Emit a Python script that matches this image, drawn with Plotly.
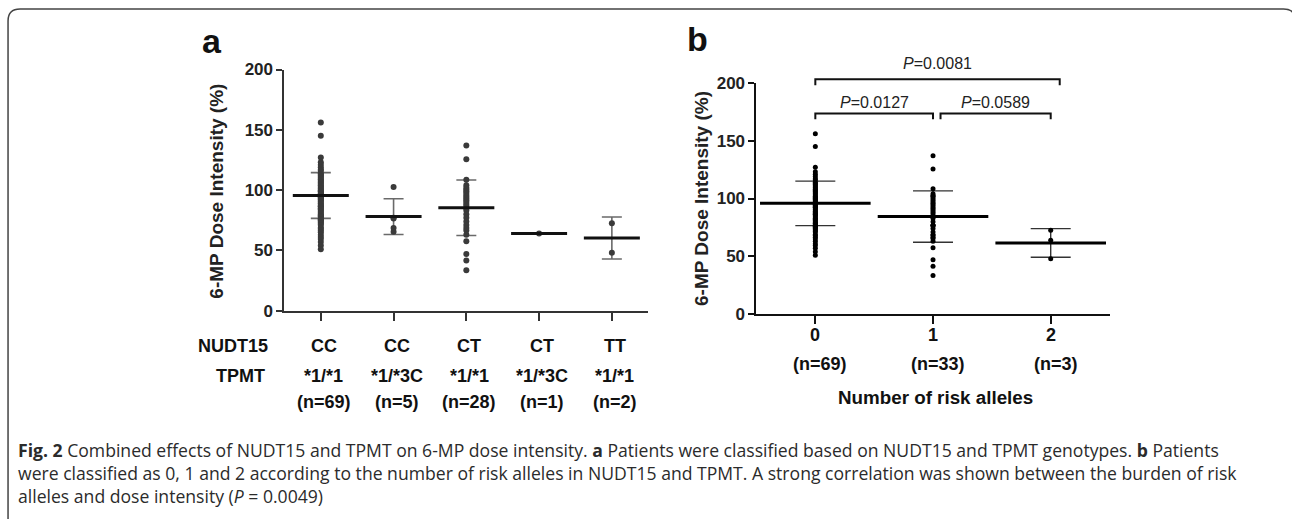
import plotly.graph_objects as go

W, H = 1292, 519

# ---------------- data: panel a ----------------
nudt15_a = ["CC", "CC", "CT", "CT", "TT"]
tpmt_a = ["*1/*1", "*1/*3C", "*1/*1", "*1/*3C", "*1/*1"]
n_a = ["(n=69)", "(n=5)", "(n=28)", "(n=1)", "(n=2)"]

vals_cc_11 = [156, 145, 127, 123, 121, 119, 117, 116, 114, 113, 112, 111, 110, 109,
              108, 107, 106, 105, 104, 103, 102, 101, 100, 99.5, 99, 98, 97, 96.5,
              96, 95, 94.5, 94, 93, 92.5, 92, 91, 90, 89, 88, 87, 86.5, 86, 85, 84,
              83, 82, 81, 80, 79, 78.5, 78, 77, 76, 75.5, 75, 74, 73, 72, 71, 69, 68,
              66.5, 65, 63, 61, 59.5, 57, 54, 51]
vals_cc_13c = [102.6, 77, 76.5, 68.5, 65.5]
vals_ct_11 = [137, 125.5, 108.5, 104, 102, 100.5, 99, 97.5, 96, 94.5, 93, 91.5, 90,
              88.5, 87, 85, 83, 80, 77, 74, 71, 68.5, 66.5, 63, 57.5, 47, 41.5, 33.5]
vals_ct_13c = [64]
vals_tt_11 = [72.5, 48]

vals_a = [vals_cc_11, vals_cc_13c, vals_ct_11, vals_ct_13c, vals_tt_11]
mean_a = [95.5, 78.0, 85.3, 64.0, 60.2]
sd_a = [19.0, 14.8, 23.0, 0.0, 17.4]

# ---------------- data: panel b ----------------
cats_b = ["0", "1", "2"]
n_b = ["(n=69)", "(n=33)", "(n=3)"]
vals_b = [vals_cc_11, vals_cc_13c + vals_ct_11, vals_ct_13c + vals_tt_11]
mean_b = [95.8, 84.4, 61.6]
sd_b = [19.2, 22.2, 12.4]

# pairwise comparisons: (group1, group2, p-value text, bracket level)
comparisons = [(0, 2, "0.0081", 203.0), (0, 1, "0.0127", 173.5), (1, 2, "0.0589", 173.5)]

caption_lines = [
    "<b>Fig. 2</b> Combined effects of NUDT15 and TPMT on 6-MP dose intensity. <b>a</b> Patients were classified based on NUDT15 and TPMT genotypes. <b>b</b> Patients",
    "were classified as 0, 1 and 2 according to the number of risk alleles in NUDT15 and TPMT. A strong correlation was shown between the burden of risk",
    "alleles and dose intensity (<i>P</i> = 0.0049)",
]

# ---------------- styling ----------------
FONT = "Arial, Liberation Sans, sans-serif"
CAP_FONT = "Open Sans, Noto Sans, sans-serif"
AX_A = "#333333"
AX_B = "#111111"

# compensation for the capture mapping observed in earlier renders
SX, OY, SY = 0.995, 8.0, 0.971


def px(x):
    return (x / SX) / W


def py(y):
    return 1 - ((y - OY) / SY) / H


fig = go.Figure()

# ---- panel a traces ----
xa = list(range(len(vals_a)))
fig.add_trace(go.Scatter(
    x=xa, y=mean_a, mode="markers", marker=dict(size=1, color="rgba(0,0,0,0)"),
    error_y=dict(type="data", array=sd_a, width=10, thickness=1.6, color="#6a6a6a"),
    xaxis="x", yaxis="y", hoverinfo="skip", showlegend=False))
dx, dy = [], []
for i, v in enumerate(vals_a):
    dx += [i] * len(v)
    dy += v
fig.add_trace(go.Scatter(
    x=dx, y=dy, mode="markers", marker=dict(size=6, color="#3a3a3a"),
    xaxis="x", yaxis="y", hoverinfo="skip", showlegend=False))
fig.add_trace(go.Scatter(
    x=xa, y=mean_a, mode="markers",
    marker=dict(symbol="line-ew", size=40, line=dict(width=3, color="#111111")),
    xaxis="x", yaxis="y", hoverinfo="skip", showlegend=False))

# ---- panel b traces ----
xb = list(range(len(vals_b)))
fig.add_trace(go.Scatter(
    x=xb, y=mean_b, mode="markers", marker=dict(size=1, color="rgba(0,0,0,0)"),
    error_y=dict(type="data", array=sd_b, width=20, thickness=1.4, color="#333333"),
    xaxis="x2", yaxis="y2", hoverinfo="skip", showlegend=False))
dx, dy = [], []
for i, v in enumerate(vals_b):
    dx += [i] * len(v)
    dy += v
fig.add_trace(go.Scatter(
    x=dx, y=dy, mode="markers", marker=dict(size=5, color="#000000"),
    xaxis="x2", yaxis="y2", hoverinfo="skip", showlegend=False))
fig.add_trace(go.Scatter(
    x=xb, y=mean_b, mode="markers",
    marker=dict(symbol="line-ew", size=79, line=dict(width=3, color="#000000")),
    xaxis="x2", yaxis="y2", hoverinfo="skip", showlegend=False))

tickfont = dict(family=FONT, size=17, color="#222222", weight="bold")
XR_A = [-0.5, 4.5]
XR_B = [-0.5, 2.5]
YR = [0, 200]

fig.update_layout(
    width=W, height=H, autosize=False,
    margin=dict(l=0, r=0, t=0, b=0),
    paper_bgcolor="white", plot_bgcolor="white",
    xaxis=dict(domain=[px(283), px(645)], range=XR_A, showgrid=False, zeroline=False,
               showline=True, linecolor=AX_A, linewidth=2, ticks="outside", ticklen=8,
               tickwidth=2, tickcolor=AX_A, tickvals=xa, showticklabels=False,
               anchor="y", fixedrange=True),
    yaxis=dict(domain=[py(312), py(69)], range=YR, showgrid=False, zeroline=False,
               showline=True, linecolor=AX_A, linewidth=2, ticks="outside", ticklen=6,
               tickwidth=2, tickcolor=AX_A, tickvals=[0, 50, 100, 150, 200],
               tickfont=tickfont, anchor="x", fixedrange=True),
    xaxis2=dict(domain=[px(752.7), px(1104)], range=XR_B, showgrid=False, zeroline=False,
                showline=True, linecolor=AX_B, linewidth=2, ticks="outside", ticklen=8,
                tickwidth=2, tickcolor=AX_B, tickvals=xb, showticklabels=False,
                anchor="y2", fixedrange=True),
    yaxis2=dict(domain=[py(315.7), py(82.3)], range=YR, showgrid=False, zeroline=False,
                showline=True, linecolor=AX_B, linewidth=2, ticks="outside", ticklen=6,
                tickwidth=2, tickcolor=AX_B, tickvals=[0, 50, 100, 150, 200],
                tickfont=tickfont, anchor="x2", fixedrange=True),
)

ann = []
lab = dict(family=FONT, size=18, color="#111111", weight="bold")

# panel letters
ann.append(dict(text="a", x=px(211), y=py(40), xref="paper", yref="paper",
                font=dict(family=FONT, size=34, color="#111111", weight="bold"),
                showarrow=False, xanchor="center", yanchor="middle"))
ann.append(dict(text="b", x=px(694), y=py(38), xref="paper", yref="paper",
                font=dict(family=FONT, size=34, color="#111111", weight="bold"),
                showarrow=False, xanchor="center", yanchor="middle"))

# y titles
ytf = dict(family=FONT, size=19, color="#222222", weight="bold")
ann.append(dict(text="6-MP Dose Intensity (%)", x=px(215), y=py(192), xref="paper", yref="paper",
                textangle=-90, font=ytf, showarrow=False, xanchor="center", yanchor="middle"))
ann.append(dict(text="6-MP Dose Intensity (%)", x=px(698), y=py(199), xref="paper", yref="paper",
                textangle=-90, font=ytf, showarrow=False, xanchor="center", yanchor="middle"))

# panel a category rows
ROW_A = (347.5, 377.5, 404.5)
ann.append(dict(text="NUDT15", x=px(232), y=py(ROW_A[0]), xref="paper", yref="paper", font=lab,
                showarrow=False, xanchor="center", yanchor="middle"))
ann.append(dict(text="TPMT", x=px(239), y=py(ROW_A[1]), xref="paper", yref="paper", font=lab,
                showarrow=False, xanchor="center", yanchor="middle"))
for i in xa:
    for txt, yy in ((nudt15_a[i], ROW_A[0]), (tpmt_a[i], ROW_A[1]), (n_a[i], ROW_A[2])):
        ann.append(dict(text=txt, x=i, y=py(yy), xref="x", yref="paper", xshift=3, font=lab,
                        showarrow=False, xanchor="center", yanchor="middle"))

# panel b category rows
for i in xb:
    ann.append(dict(text=cats_b[i], x=i, y=py(337), xref="x2", yref="paper", font=lab,
                    showarrow=False, xanchor="center", yanchor="middle"))
    ann.append(dict(text=n_b[i], x=i, y=py(365.5), xref="x2", yref="paper", xshift=5, font=lab,
                    showarrow=False, xanchor="center", yanchor="middle"))
ann.append(dict(text="Number of risk alleles", x=px(931), y=py(400), xref="paper", yref="paper",
                font=dict(family=FONT, size=18.8, color="#111111", weight="bold"),
                showarrow=False, xanchor="center", yanchor="middle"))

# significance brackets (drawn in axis-domain units so they may sit above the axis top)
shapes = []
pix_per_unit_x = 117.5
pix_per_unit_y = 233.4 / (YR[1] - YR[0])
bracket_pad = {(0, 2): (0.0, 9.0), (0, 1): (0.0, 0.0), (1, 2): (7.5, 0.0)}
text_shift = {(0, 2): 16, (0, 1): 11, (1, 2): 11}
drop = 6 / pix_per_unit_y


def xd(v):
    return (v - XR_B[0]) / (XR_B[1] - XR_B[0])


def yd(v):
    return (v - YR[0]) / (YR[1] - YR[0])


for g1, g2, ptxt, lvl in comparisons:
    pl, pr = bracket_pad[(g1, g2)]
    x1 = xd(g1 + pl / pix_per_unit_x)
    x2 = xd(g2 + pr / pix_per_unit_x)
    y_hi = yd(lvl)
    y_lo = yd(lvl - drop)
    shapes.append(dict(type="path", xref="x2 domain", yref="y2 domain",
                       path=f"M{x1},{y_lo} L{x1},{y_hi} L{x2},{y_hi} L{x2},{y_lo}",
                       line=dict(color="#111111", width=2)))
    ann.append(dict(text="<i>P</i>=" + ptxt, x=(x1 + x2) / 2, y=y_hi,
                    xref="x2 domain", yref="y2 domain", yshift=text_shift[(g1, g2)],
                    font=dict(family=FONT, size=16, color="#222222"),
                    showarrow=False, xanchor="center", yanchor="middle"))

# caption
for k, line in enumerate(caption_lines):
    ann.append(dict(text=line, x=px(16), y=py(452 + 23.5 * k), xref="paper", yref="paper",
                    font=dict(family=CAP_FONT, size=17.6, color="#2b2b2b"),
                    showarrow=False, xanchor="left", yanchor="middle", align="left"))

# outer frame with rounded corners
r = 12
L, R, T, B = 8, 1289, 8, 523
frame = (f"M{px(L)},{py(B + 5)} L{px(L)},{py(T + r)} Q{px(L)},{py(T)} {px(L + r)},{py(T)} "
         f"L{px(R - r)},{py(T)} Q{px(R)},{py(T)} {px(R)},{py(T + r)} L{px(R)},{py(B + 5)}")
shapes.append(dict(type="path", xref="paper", yref="paper", path=frame,
                   line=dict(color="#444444", width=1.5)))

fig.update_layout(annotations=ann, shapes=shapes)

post = ("document.documentElement.style.margin='0';"
        "document.documentElement.style.padding='0';"
        "document.documentElement.style.overflow='hidden';"
        "document.body.style.margin='0';document.body.style.padding='0';"
        "document.body.style.overflow='hidden';"
        "var gd=document.getElementById('{plot_id}');"
        "gd.style.position='fixed';gd.style.top='0px';gd.style.left='0px';")

fig.write_html("out.html", config={"displayModeBar": False}, post_script=post)
